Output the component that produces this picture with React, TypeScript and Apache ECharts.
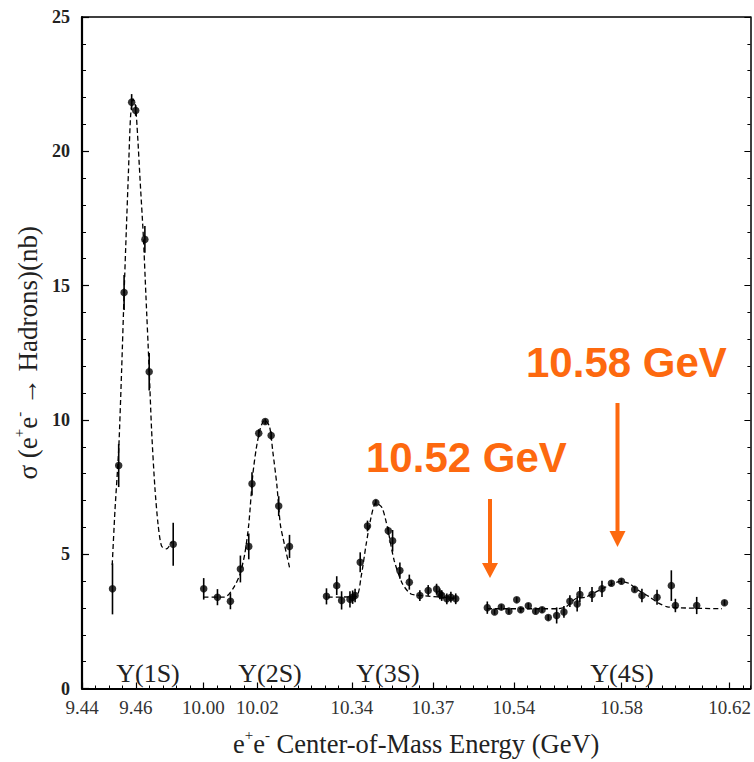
import React, { useEffect, useRef } from "react";
import * as echarts from "echarts";

// ---- Tick labels of the broken energy axis (GeV) ----
const tickEnergies = [9.44, 9.46, 10.0, 10.02, 10.34, 10.37, 10.54, 10.58, 10.62];

// ---- Υ(1S) scan ----
const energy1S = [9.4513, 9.4536, 9.4556, 9.4584, 9.4599, 9.4633, 9.4649, 9.4738];
const sigma1S = [3.71, 8.3, 14.74, 21.83, 21.52, 16.72, 11.79, 5.37];
const error1S = [0.95, 0.8, 0.65, 0.3, 0.2, 0.5, 0.7, 0.8];

// ---- Υ(2S) scan ----
const energy2S = [10.0001, 10.0052, 10.01, 10.0137, 10.0168, 10.018, 10.0205, 10.0229, 10.0251, 10.0279, 10.0319];
const sigma2S = [3.71, 3.4, 3.25, 4.45, 5.29, 7.62, 9.5, 9.94, 9.42, 6.79, 5.29];
const error2S = [0.4, 0.3, 0.3, 0.5, 0.48, 0.43, 0.15, 0.1, 0.15, 0.37, 0.43];

// ---- Υ(3S) scan ----
const energy3S = [10.3306, 10.3344, 10.3362, 10.3393, 10.3403, 10.3412, 10.3431, 10.3458, 10.3489, 10.3535, 10.3551, 10.3578, 10.3613, 10.3652, 10.3683, 10.3714, 10.3726, 10.3733, 10.3752, 10.3767, 10.3785];
const sigma3S = [3.43, 3.83, 3.28, 3.32, 3.4, 3.46, 4.7, 6.05, 6.92, 5.87, 5.5, 4.39, 3.96, 3.46, 3.65, 3.7, 3.52, 3.46, 3.34, 3.4, 3.34];
const error3S = [0.3, 0.35, 0.34, 0.3, 0.25, 0.25, 0.37, 0.2, 0.1, 0.15, 0.4, 0.3, 0.28, 0.2, 0.2, 0.2, 0.2, 0.2, 0.2, 0.2, 0.2];

// ---- Υ(4S) scan ----
const energy4S = [10.5302, 10.5329, 10.5354, 10.5382, 10.5411, 10.5426, 10.5454, 10.5481, 10.5505, 10.5528, 10.5559, 10.5586, 10.5608, 10.5635, 10.5645, 10.569, 10.5727, 10.5762, 10.5799, 10.5848, 10.5875, 10.5931, 10.5984, 10.5999, 10.6078, 10.6181];
const sigma4S = [3.01, 2.85, 3.03, 2.88, 3.3, 2.93, 3.08, 2.88, 2.93, 2.64, 2.72, 2.85, 3.25, 3.15, 3.5, 3.5, 3.71, 3.92, 3.99, 3.69, 3.46, 3.4, 3.83, 3.09, 3.09, 3.19];
const error4S = [0.23, 0.1, 0.1, 0.1, 0.1, 0.1, 0.1, 0.1, 0.1, 0.1, 0.3, 0.22, 0.22, 0.28, 0.28, 0.28, 0.3, 0.1, 0.1, 0.1, 0.25, 0.28, 0.57, 0.25, 0.32, 0.1];

// ---- Fitted line shapes (dashed) ----
const fit1SEnergy = [9.4512, 9.4522, 9.4536, 9.4547, 9.4556, 9.4564, 9.4572, 9.458, 9.4589, 9.4598, 9.4606, 9.4616, 9.4627, 9.4637, 9.4648, 9.4658, 9.467, 9.4682, 9.4695, 9.4713, 9.4732];
const fit1SSigma = [4.6, 6.6, 8.9, 11.9, 14.7, 17.0, 19.2, 21.3, 21.95, 21.7, 20.6, 18.8, 16.9, 14.6, 12.1, 9.6, 7.5, 6.1, 5.3, 5.2, 5.45];
const fit2SEnergy = [10.0001, 10.0079, 10.0109, 10.0134, 10.0153, 10.0168, 10.0183, 10.0196, 10.0211, 10.0227, 10.0245, 10.0257, 10.0272, 10.0285, 10.03, 10.0319];
const fit2SSigma = [3.4, 3.4, 3.71, 4.21, 5.0, 6.11, 7.96, 8.95, 9.69, 10.0, 9.75, 8.83, 7.59, 6.11, 5.37, 4.51];
const fit3SEnergy = [10.3311, 10.3415, 10.3434, 10.3453, 10.3471, 10.3489, 10.3512, 10.3532, 10.3557, 10.3588, 10.3619, 10.3662, 10.3786];
const fit3SSigma = [3.4, 3.43, 4.14, 5.37, 6.36, 6.92, 6.73, 5.99, 4.76, 3.89, 3.52, 3.46, 3.35];
const fit4SEnergy = [10.5301, 10.5556, 10.5592, 10.5629, 10.5666, 10.5703, 10.5752, 10.5795, 10.5826, 10.5863, 10.59, 10.5937, 10.5974, 10.6171];
const fit4SSigma = [2.97, 2.97, 3.03, 3.34, 3.4, 3.59, 3.83, 3.99, 3.92, 3.65, 3.43, 3.18, 3.03, 2.97];

// ---- Resonance labels ----
const resonanceLabels = ["Υ(1S)", "Υ(2S)", "Υ(3S)", "Υ(4S)"];

// Broken axis: each scan window is shifted so they sit side by side
function toAxis(e: number): number {
  if (e < 9.7) return e;
  if (e < 10.2) return e - 0.515;
  if (e < 10.45) return e - 0.8;
  return e - 0.94;
}

const SERIF = "'Liberation Serif', 'DejaVu Serif', serif";
const SANS = "'Liberation Sans', Arial, sans-serif";
const ORANGE = "#fd690f";

export default function App() {
  const ref = useRef<HTMLDivElement>(null);

  useEffect(() => {
    if (!ref.current) return;
    const chart = echarts.init(ref.current, undefined, { renderer: "svg" });

    const energies = [...energy1S, ...energy2S, ...energy3S, ...energy4S];
    const sigmas = [...sigma1S, ...sigma2S, ...sigma3S, ...sigma4S];
    const errors = [...error1S, ...error2S, ...error3S, ...error4S];
    const points = energies.map((e, i) => [toAxis(e), sigmas[i]]);
    const bars = energies.map((e, i) => [toAxis(e), sigmas[i] - errors[i], sigmas[i] + errors[i]]);

    const fits = [
      [fit1SEnergy, fit1SSigma],
      [fit2SEnergy, fit2SSigma],
      [fit3SEnergy, fit3SSigma],
      [fit4SEnergy, fit4SSigma],
    ];

    const tickPos = tickEnergies.map(toAxis);
    const labelFor = (v: number) => {
      let best = 0;
      let d = Infinity;
      tickPos.forEach((p, i) => {
        if (Math.abs(p - v) < d) {
          d = Math.abs(p - v);
          best = i;
        }
      });
      return tickEnergies[best].toFixed(2);
    };

    const xMin = 9.44;
    const xMax = 9.6877;

    const option: any = {
      animation: false,
      backgroundColor: "#ffffff",
      grid: { left: 82, right: 2, top: 17, bottom: 70, containLabel: false },
      xAxis: [
        {
          type: "value",
          min: xMin,
          max: xMax,
          position: "bottom",
          axisLine: { show: true, lineStyle: { color: "#000", width: 2.2 } },
          axisTick: { show: true, inside: true, length: 6, customValues: tickPos, lineStyle: { color: "#000", width: 1.2 } },
          axisLabel: {
            show: true,
            customValues: tickPos,
            formatter: (v: number) => labelFor(v),
            fontFamily: SERIF,
            fontSize: 19,
            color: "#333",
            margin: 9,
          },
          splitLine: { show: false },
          name: "{n|e}{sup|+}{n|e}{sup|-}{n| Center-of-Mass Energy (GeV)}",
          nameLocation: "middle",
          nameGap: 39,
          nameTextStyle: {
            rich: {
              n: { fontFamily: SERIF, fontSize: 26.5, color: "#222", lineHeight: 32 },
              sup: { fontFamily: SERIF, fontSize: 15, color: "#222", verticalAlign: "top", lineHeight: 15 },
            },
          },
        },
        {
          type: "value",
          min: xMin,
          max: xMax,
          interval: 0.005,
          position: "bottom",
          axisLine: { show: false },
          axisTick: { show: true, inside: true, length: 3, lineStyle: { color: "#000", width: 1 } },
          axisLabel: { show: false },
          splitLine: { show: false },
        },
        {
          type: "value",
          min: xMin,
          max: xMax,
          position: "top",
          axisLine: { show: true, lineStyle: { color: "#000", width: 1.5 } },
          axisTick: { show: false },
          axisLabel: { show: false },
          splitLine: { show: false },
        },
      ],
      yAxis: [
        {
          type: "value",
          min: 0,
          max: 25,
          interval: 5,
          position: "left",
          axisLine: { show: true, lineStyle: { color: "#000", width: 2.2 } },
          axisTick: { show: true, inside: true, length: 7, lineStyle: { color: "#000", width: 1.2 } },
          minorTick: { show: true, splitNumber: 5, length: 4, lineStyle: { color: "#000", width: 1 } },
          axisLabel: { fontFamily: SERIF, fontSize: 18, fontWeight: "bold", color: "#222", margin: 12 },
          splitLine: { show: false },
          name: "{n|σ (e}{sup|+}{n|e}{sup|-}{n| → Hadrons)(nb)}",
          nameLocation: "middle",
          nameGap: 38,
          nameRotate: 90,
          nameTextStyle: {
            rich: {
              n: { fontFamily: SERIF, fontSize: 27, color: "#222", lineHeight: 32 },
              sup: { fontFamily: SERIF, fontSize: 15, color: "#222", verticalAlign: "top", lineHeight: 15 },
            },
          },
        },
        {
          type: "value",
          min: 0,
          max: 25,
          interval: 5,
          position: "right",
          axisLine: { show: true, lineStyle: { color: "#000", width: 1.5 } },
          axisTick: { show: true, inside: true, length: 6, lineStyle: { color: "#000", width: 1 } },
          minorTick: { show: true, splitNumber: 5, length: 3, lineStyle: { color: "#000", width: 1 } },
          axisLabel: { show: false },
          splitLine: { show: false },
        },
      ],
      series: [
        ...fits.map(([es, ss], k) => ({
          type: "line",
          name: "fit" + k,
          xAxisIndex: 0,
          yAxisIndex: 0,
          data: es.map((e, i) => [toAxis(e), ss[i]]),
          showSymbol: false,
          symbol: "none",
          smooth: 0.25,
          lineStyle: { color: "#000", width: 1.3, type: [5, 3] },
          z: 2,
          silent: true,
        })),
        {
          type: "custom",
          name: "errors",
          xAxisIndex: 0,
          yAxisIndex: 0,
          data: bars,
          encode: { x: 0, y: [1, 2] },
          renderItem: (params: any, api: any) => {
            const x = api.value(0);
            const p1 = api.coord([x, api.value(1)]);
            const p2 = api.coord([x, api.value(2)]);
            return {
              type: "line",
              shape: { x1: p1[0], y1: p1[1], x2: p2[0], y2: p2[1] },
              style: { stroke: "#000", lineWidth: 1.6 },
            };
          },
          z: 3,
          silent: true,
        },
        {
          type: "scatter",
          name: "data",
          xAxisIndex: 0,
          yAxisIndex: 0,
          data: points,
          symbol: "circle",
          symbolSize: 7.5,
          itemStyle: { color: "#000" },
          z: 4,
          silent: true,
        },
      ],
      graphic: [
        ...resonanceLabels.map((t, i) => ({
          type: "text",
          x: [148, 270, 388, 622][i],
          y: 673,
          style: { text: t, fontFamily: SERIF, fontSize: 26, fill: "#222", align: "center", verticalAlign: "middle" },
        })),
        {
          type: "text",
          x: 366,
          y: 457,
          style: { text: "10.52 GeV", fontFamily: SANS, fontSize: 42, fontWeight: "bold", fill: ORANGE, align: "left", verticalAlign: "middle" },
        },
        {
          type: "text",
          x: 526,
          y: 362,
          style: { text: "10.58 GeV", fontFamily: SANS, fontSize: 42, fontWeight: "bold", fill: ORANGE, align: "left", verticalAlign: "middle" },
        },
        { type: "line", shape: { x1: 490, y1: 499, x2: 490, y2: 566 }, style: { stroke: ORANGE, lineWidth: 4 } },
        { type: "polygon", shape: { points: [[482, 563], [498, 563], [490, 578]] }, style: { fill: ORANGE } },
        { type: "line", shape: { x1: 617.5, y1: 403, x2: 617.5, y2: 534 }, style: { stroke: ORANGE, lineWidth: 4 } },
        { type: "polygon", shape: { points: [[609.5, 531], [625.5, 531], [617.5, 547]] }, style: { fill: ORANGE } },
      ],
    };

    chart.setOption(option);
    return () => chart.dispose();
  }, []);

  return (
    <div
      ref={ref}
      style={{ position: "fixed", left: 0, top: 0, width: 754, height: 762, background: "#fff" }}
    />
  );
}
